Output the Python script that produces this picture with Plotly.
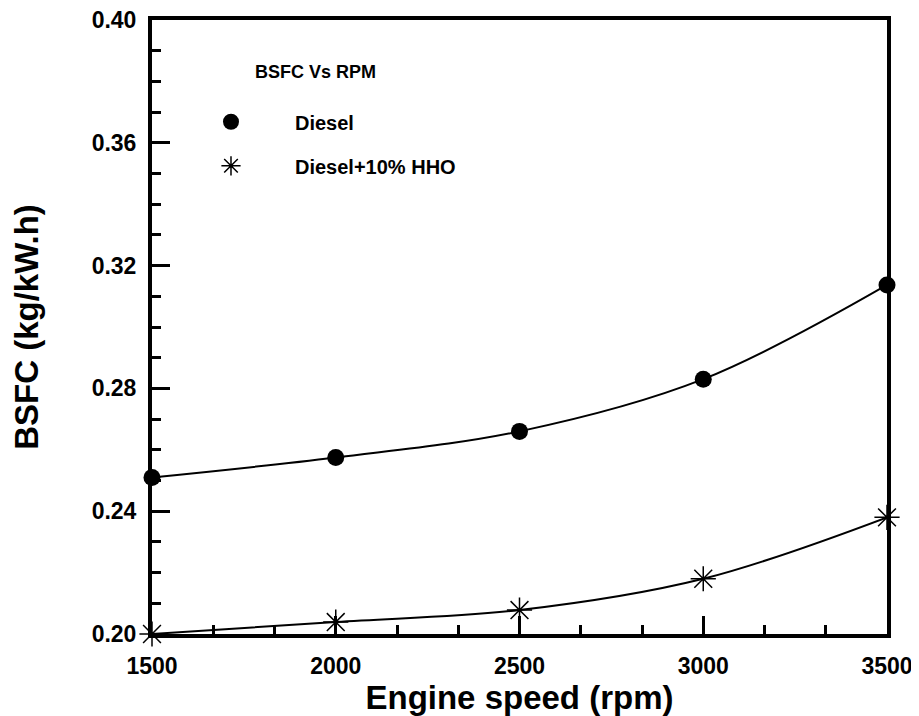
import plotly.graph_objects as go

rpm = [1500, 2000, 2500, 3000, 3500]
bsfc_diesel = [0.251, 0.2575, 0.266, 0.283, 0.3137]
bsfc_hho = [0.200, 0.2039, 0.2078, 0.218, 0.238]

series_names = ["Diesel", "Diesel+10% HHO"]
legend_title = "BSFC Vs RPM"
y_ticks = [0.20, 0.24, 0.28, 0.32, 0.36, 0.40]
x_ticks = [1500, 2000, 2500, 3000, 3500]

font_family = "Liberation Sans, Arial, sans-serif"

fig = go.Figure()
# data curves
fig.add_trace(go.Scatter(
    x=rpm, y=bsfc_diesel, name=series_names[0], showlegend=False,
    mode="lines+markers", line=dict(color="black", width=2, shape="spline"),
    marker=dict(symbol="circle", size=17, color="black"),
    cliponaxis=False,
))
fig.add_trace(go.Scatter(
    x=rpm, y=bsfc_hho, name=series_names[1], showlegend=False,
    mode="lines+markers", line=dict(color="black", width=2, shape="spline"),
    marker=dict(symbol="asterisk-open", size=21, color="black",
                line=dict(color="black", width=1.5)),
    cliponaxis=False,
))
# legend entries (marker only, like the reference)
fig.add_trace(go.Scatter(
    x=[None], y=[None], name=f"<b>{series_names[0]}</b>", mode="markers",
    marker=dict(symbol="circle", size=24, color="black"), legendgroup="a",
))
fig.add_trace(go.Scatter(
    x=[None], y=[None], name=f"<b>{series_names[1]}</b>", mode="markers",
    marker=dict(symbol="asterisk-open", size=24, color="black",
                line=dict(color="black", width=1.5)), legendgroup="b",
))

fig.update_layout(
    width=919, height=716,
    margin=dict(l=144, r=40, t=12, b=90),
    plot_bgcolor="white", paper_bgcolor="white",
    font=dict(family=font_family, color="black"),
    showlegend=True,
    legend=dict(
        x=0.0204, y=0.866, xanchor="left", yanchor="top",
        font=dict(size=20), bgcolor="rgba(0,0,0,0)",
        itemwidth=118, tracegroupgap=15, traceorder="grouped",
    ),
    annotations=[dict(
        text=f"<b>{legend_title}</b>", xref="paper", yref="paper",
        x=(253 - 152) / 735, y=(634 - 72) / 614, xanchor="left", yanchor="middle",
        showarrow=False, font=dict(size=18),
    )],
    xaxis=dict(
        range=[1500, 3500], tickvals=x_ticks, automargin=False,
        ticktext=[f"<b>{v}</b>" for v in x_ticks],
        tickfont=dict(size=23), ticklabelstandoff=8, ticklabeloverflow="allow",
        showline=True, linecolor="black", linewidth=4, mirror=True,
        ticks="inside", ticklen=18, tickwidth=3, tickcolor="black",
        minor=dict(ticks="inside", ticklen=9, tickwidth=2.5, tickcolor="black",
                   tick0=1500, dtick=500 / 3),
        showgrid=False, zeroline=False,
        title=dict(text="<b>Engine speed (rpm)</b>", font=dict(size=33), standoff=9),
    ),
    yaxis=dict(
        range=[0.20, 0.40], tickvals=y_ticks, automargin=False,
        ticktext=[f"<b>{v:.2f}</b>" for v in y_ticks],
        tickfont=dict(size=23), ticklabelstandoff=7, ticklabeloverflow="allow",
        showline=True, linecolor="black", linewidth=4, mirror=True,
        ticks="inside", ticklen=18, tickwidth=3, tickcolor="black",
        minor=dict(ticks="inside", ticklen=9, tickwidth=2.5, tickcolor="black",
                   tick0=0.20, dtick=0.01),
        showgrid=False, zeroline=False,
        title=dict(text="<b>BSFC (kg/kW.h)</b>", font=dict(size=33), standoff=46),
    ),
)

fig.write_html("out.html")
